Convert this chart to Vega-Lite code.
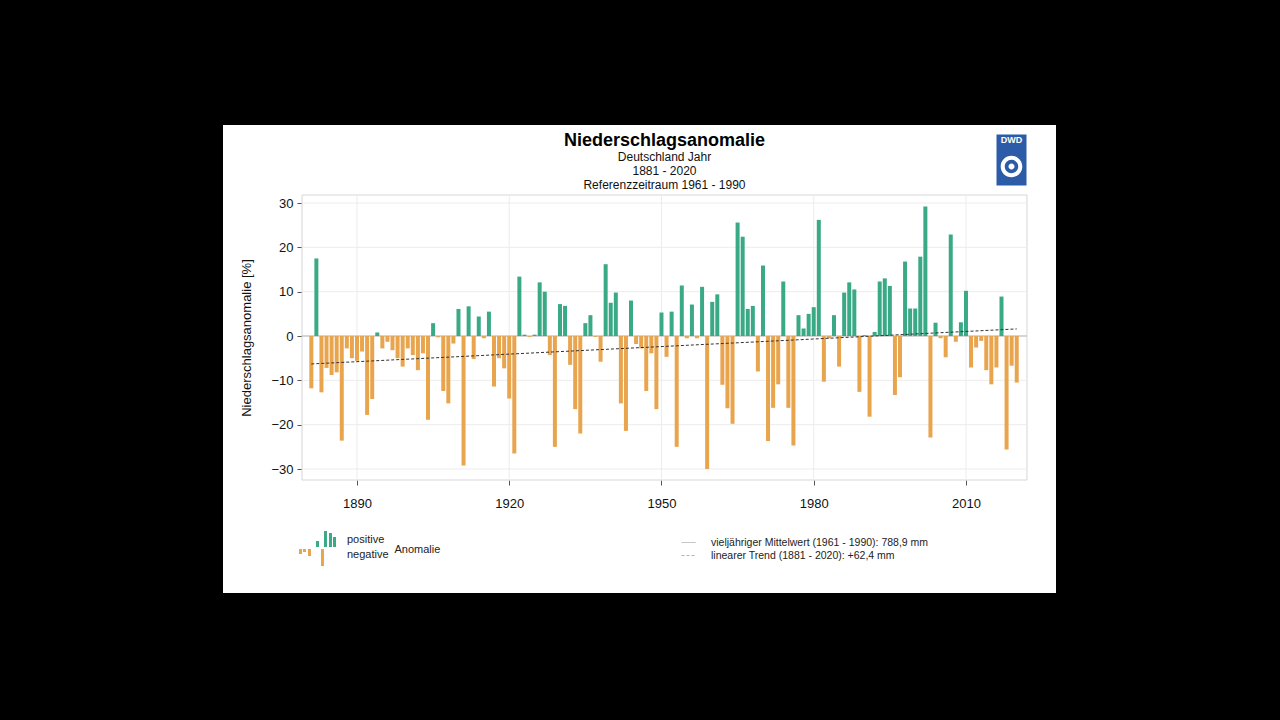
{
  "$schema": "https://vega.github.io/schema/vega-lite/v6.json",
  "width": 833,
  "height": 468,
  "autosize": {"type": "none"},
  "padding": {"left": 223, "top": 125, "right": 224, "bottom": 127},
  "background": "#000000",
  "config": {
    "font": "Liberation Sans",
    "view": {"fill": "#ffffff", "stroke": null}
  },
  "title": {
    "text": "Niederschlagsanomalie",
    "subtitle": ["Deutschland Jahr", "1881 - 2020", "Referenzzeitraum 1961 - 1990"],
    "anchor": "middle",
    "frame": "group",
    "dx": 25,
    "offset": -66,
    "fontSize": 18,
    "fontWeight": "bold",
    "color": "#000000",
    "subtitleFontSize": 12,
    "subtitleColor": "#111111",
    "subtitlePadding": 2,
    "subtitleLineHeight": 14
  },
  "datasets": {
    "anomalie": [
      {"year": 1881, "anomaly": -11.8, "typ": "negative"},
      {"year": 1882, "anomaly": 17.5, "typ": "positive"},
      {"year": 1883, "anomaly": -12.7, "typ": "negative"},
      {"year": 1884, "anomaly": -7.2, "typ": "negative"},
      {"year": 1885, "anomaly": -8.8, "typ": "negative"},
      {"year": 1886, "anomaly": -8.2, "typ": "negative"},
      {"year": 1887, "anomaly": -23.6, "typ": "negative"},
      {"year": 1888, "anomaly": -2.8, "typ": "negative"},
      {"year": 1889, "anomaly": -5.0, "typ": "negative"},
      {"year": 1890, "anomaly": -5.6, "typ": "negative"},
      {"year": 1891, "anomaly": -3.5, "typ": "negative"},
      {"year": 1892, "anomaly": -17.8, "typ": "negative"},
      {"year": 1893, "anomaly": -14.2, "typ": "negative"},
      {"year": 1894, "anomaly": 0.8, "typ": "positive"},
      {"year": 1895, "anomaly": -2.8, "typ": "negative"},
      {"year": 1896, "anomaly": -1.3, "typ": "negative"},
      {"year": 1897, "anomaly": -3.2, "typ": "negative"},
      {"year": 1898, "anomaly": -5.0, "typ": "negative"},
      {"year": 1899, "anomaly": -6.9, "typ": "negative"},
      {"year": 1900, "anomaly": -2.8, "typ": "negative"},
      {"year": 1901, "anomaly": -4.3, "typ": "negative"},
      {"year": 1902, "anomaly": -7.7, "typ": "negative"},
      {"year": 1903, "anomaly": -3.9, "typ": "negative"},
      {"year": 1904, "anomaly": -18.9, "typ": "negative"},
      {"year": 1905, "anomaly": 2.9, "typ": "positive"},
      {"year": 1906, "anomaly": -0.3, "typ": "negative"},
      {"year": 1907, "anomaly": -12.4, "typ": "negative"},
      {"year": 1908, "anomaly": -15.2, "typ": "negative"},
      {"year": 1909, "anomaly": -1.7, "typ": "negative"},
      {"year": 1910, "anomaly": 6.1, "typ": "positive"},
      {"year": 1911, "anomaly": -29.2, "typ": "negative"},
      {"year": 1912, "anomaly": 6.7, "typ": "positive"},
      {"year": 1913, "anomaly": -5.2, "typ": "negative"},
      {"year": 1914, "anomaly": 4.4, "typ": "positive"},
      {"year": 1915, "anomaly": -0.5, "typ": "negative"},
      {"year": 1916, "anomaly": 5.5, "typ": "positive"},
      {"year": 1917, "anomaly": -11.4, "typ": "negative"},
      {"year": 1918, "anomaly": -5.0, "typ": "negative"},
      {"year": 1919, "anomaly": -7.3, "typ": "negative"},
      {"year": 1920, "anomaly": -14.1, "typ": "negative"},
      {"year": 1921, "anomaly": -26.5, "typ": "negative"},
      {"year": 1922, "anomaly": 13.4, "typ": "positive"},
      {"year": 1923, "anomaly": 0.3, "typ": "positive"},
      {"year": 1924, "anomaly": -0.2, "typ": "negative"},
      {"year": 1925, "anomaly": 0.3, "typ": "positive"},
      {"year": 1926, "anomaly": 12.1, "typ": "positive"},
      {"year": 1927, "anomaly": 10.0, "typ": "positive"},
      {"year": 1928, "anomaly": -4.3, "typ": "negative"},
      {"year": 1929, "anomaly": -25.0, "typ": "negative"},
      {"year": 1930, "anomaly": 7.2, "typ": "positive"},
      {"year": 1931, "anomaly": 6.8, "typ": "positive"},
      {"year": 1932, "anomaly": -6.5, "typ": "negative"},
      {"year": 1933, "anomaly": -16.5, "typ": "negative"},
      {"year": 1934, "anomaly": -22.0, "typ": "negative"},
      {"year": 1935, "anomaly": 2.9, "typ": "positive"},
      {"year": 1936, "anomaly": 4.7, "typ": "positive"},
      {"year": 1937, "anomaly": -0.2, "typ": "negative"},
      {"year": 1938, "anomaly": -5.8, "typ": "negative"},
      {"year": 1939, "anomaly": 16.2, "typ": "positive"},
      {"year": 1940, "anomaly": 7.5, "typ": "positive"},
      {"year": 1941, "anomaly": 9.8, "typ": "positive"},
      {"year": 1942, "anomaly": -15.2, "typ": "negative"},
      {"year": 1943, "anomaly": -21.4, "typ": "negative"},
      {"year": 1944, "anomaly": 8.0, "typ": "positive"},
      {"year": 1945, "anomaly": -1.8, "typ": "negative"},
      {"year": 1946, "anomaly": -2.8, "typ": "negative"},
      {"year": 1947, "anomaly": -12.4, "typ": "negative"},
      {"year": 1948, "anomaly": -3.9, "typ": "negative"},
      {"year": 1949, "anomaly": -16.5, "typ": "negative"},
      {"year": 1950, "anomaly": 5.3, "typ": "positive"},
      {"year": 1951, "anomaly": -4.7, "typ": "negative"},
      {"year": 1952, "anomaly": 5.5, "typ": "positive"},
      {"year": 1953, "anomaly": -25.0, "typ": "negative"},
      {"year": 1954, "anomaly": 11.4, "typ": "positive"},
      {"year": 1955, "anomaly": -0.5, "typ": "negative"},
      {"year": 1956, "anomaly": 7.1, "typ": "positive"},
      {"year": 1957, "anomaly": -0.5, "typ": "negative"},
      {"year": 1958, "anomaly": 11.1, "typ": "positive"},
      {"year": 1959, "anomaly": -30.0, "typ": "negative"},
      {"year": 1960, "anomaly": 7.7, "typ": "positive"},
      {"year": 1961, "anomaly": 9.4, "typ": "positive"},
      {"year": 1962, "anomaly": -11.0, "typ": "negative"},
      {"year": 1963, "anomaly": -16.3, "typ": "negative"},
      {"year": 1964, "anomaly": -19.8, "typ": "negative"},
      {"year": 1965, "anomaly": 25.6, "typ": "positive"},
      {"year": 1966, "anomaly": 22.4, "typ": "positive"},
      {"year": 1967, "anomaly": 6.1, "typ": "positive"},
      {"year": 1968, "anomaly": 6.8, "typ": "positive"},
      {"year": 1969, "anomaly": -8.0, "typ": "negative"},
      {"year": 1970, "anomaly": 15.9, "typ": "positive"},
      {"year": 1971, "anomaly": -23.7, "typ": "negative"},
      {"year": 1972, "anomaly": -16.2, "typ": "negative"},
      {"year": 1973, "anomaly": -10.9, "typ": "negative"},
      {"year": 1974, "anomaly": 12.3, "typ": "positive"},
      {"year": 1975, "anomaly": -16.2, "typ": "negative"},
      {"year": 1976, "anomaly": -24.7, "typ": "negative"},
      {"year": 1977, "anomaly": 4.7, "typ": "positive"},
      {"year": 1978, "anomaly": 1.7, "typ": "positive"},
      {"year": 1979, "anomaly": 5.0, "typ": "positive"},
      {"year": 1980, "anomaly": 6.5, "typ": "positive"},
      {"year": 1981, "anomaly": 26.2, "typ": "positive"},
      {"year": 1982, "anomaly": -10.3, "typ": "negative"},
      {"year": 1983, "anomaly": -0.5, "typ": "negative"},
      {"year": 1984, "anomaly": 4.7, "typ": "positive"},
      {"year": 1985, "anomaly": -6.9, "typ": "negative"},
      {"year": 1986, "anomaly": 9.8, "typ": "positive"},
      {"year": 1987, "anomaly": 12.1, "typ": "positive"},
      {"year": 1988, "anomaly": 10.5, "typ": "positive"},
      {"year": 1989, "anomaly": -12.6, "typ": "negative"},
      {"year": 1990, "anomaly": 0.2, "typ": "positive"},
      {"year": 1991, "anomaly": -18.2, "typ": "negative"},
      {"year": 1992, "anomaly": 0.9, "typ": "positive"},
      {"year": 1993, "anomaly": 12.3, "typ": "positive"},
      {"year": 1994, "anomaly": 13.0, "typ": "positive"},
      {"year": 1995, "anomaly": 11.3, "typ": "positive"},
      {"year": 1996, "anomaly": -13.3, "typ": "negative"},
      {"year": 1997, "anomaly": -9.3, "typ": "negative"},
      {"year": 1998, "anomaly": 16.8, "typ": "positive"},
      {"year": 1999, "anomaly": 6.2, "typ": "positive"},
      {"year": 2000, "anomaly": 6.2, "typ": "positive"},
      {"year": 2001, "anomaly": 17.9, "typ": "positive"},
      {"year": 2002, "anomaly": 29.2, "typ": "positive"},
      {"year": 2003, "anomaly": -22.9, "typ": "negative"},
      {"year": 2004, "anomaly": 3.0, "typ": "positive"},
      {"year": 2005, "anomaly": -0.5, "typ": "negative"},
      {"year": 2006, "anomaly": -4.8, "typ": "negative"},
      {"year": 2007, "anomaly": 22.9, "typ": "positive"},
      {"year": 2008, "anomaly": -1.3, "typ": "negative"},
      {"year": 2009, "anomaly": 3.1, "typ": "positive"},
      {"year": 2010, "anomaly": 10.2, "typ": "positive"},
      {"year": 2011, "anomaly": -7.1, "typ": "negative"},
      {"year": 2012, "anomaly": -2.6, "typ": "negative"},
      {"year": 2013, "anomaly": -1.1, "typ": "negative"},
      {"year": 2014, "anomaly": -7.7, "typ": "negative"},
      {"year": 2015, "anomaly": -10.9, "typ": "negative"},
      {"year": 2016, "anomaly": -7.1, "typ": "negative"},
      {"year": 2017, "anomaly": 8.9, "typ": "positive"},
      {"year": 2018, "anomaly": -25.6, "typ": "negative"},
      {"year": 2019, "anomaly": -6.7, "typ": "negative"},
      {"year": 2020, "anomaly": -10.5, "typ": "negative"}
    ],
    "trend": [
      {"year": 1881, "anomaly": -6.3},
      {"year": 2020, "anomaly": 1.6}
    ],
    "hgrid": [
      {"anomaly": -30}, {"anomaly": -20}, {"anomaly": -10}, {"anomaly": 0},
      {"anomaly": 10}, {"anomaly": 20}, {"anomaly": 30}
    ],
    "vgrid": [
      {"year": 1890}, {"year": 1920}, {"year": 1950}, {"year": 1980}, {"year": 2010}
    ],
    "frame": [{"name": "frame"}]
  },
  "layer": [
    {
      "data": {"name": "frame"},
      "mark": {"type": "rect", "fill": "#ffffff", "stroke": "#d6d6d6", "strokeWidth": 1},
      "encoding": {
        "x": {"datum": 1879.17, "type": "quantitative"},
        "x2": {"datum": 2022.02},
        "y": {"datum": 31.81, "type": "quantitative"},
        "y2": {"datum": -32.48}
      }
    },
    {
      "data": {"name": "frame"},
      "mark": {"type": "rect", "fill": "#2c5ca8", "strokeWidth": 0},
      "encoding": {
        "x": {"datum": 1900, "type": "quantitative"},
        "x2": {"datum": 1900},
        "y": {"datum": 0, "type": "quantitative"},
        "y2": {"datum": 0},
        "opacity": {
          "datum": "DWD",
          "type": "nominal",
          "scale": {"domain": ["DWD"], "range": [1, 1]},
          "legend": {
            "orient": "none",
            "legendX": 773.5,
            "legendY": 11,
            "title": "DWD",
            "titleOrient": "top",
            "titleAnchor": "middle",
            "titleAlign": "center",
            "titleBaseline": "top",
            "titleFontSize": 9,
            "titleFontWeight": "bold",
            "titleColor": "#ffffff",
            "titlePadding": 0,
            "padding": 0,
            "rowPadding": 0,
            "symbolSize": 900,
            "symbolType": "M-1,-1.7H1V1.7H-1Z M0.72,0.43A0.72,0.72 0 1,0 -0.72,0.43A0.72,0.72 0 1,0 0.72,0.43Z M-0.45,0.43A0.45,0.45 0 1,1 0.45,0.43A0.45,0.45 0 1,1 -0.45,0.43Z M0.2,0.43A0.2,0.2 0 1,0 -0.2,0.43A0.2,0.2 0 1,0 0.2,0.43Z",
            "symbolStrokeWidth": 0,
            "labelExpr": "''",
            "labelOffset": 0,
            "labelFontSize": 1,
            "encode": {
              "symbols": {
                "update": {
                  "fill": {"value": "#2c5ca8"},
                  "opacity": {"value": 1}
                }
              }
            }
          }
        }
      }
    },
    {
      "data": {"name": "hgrid"},
      "mark": {"type": "rule", "stroke": "#ececec", "strokeWidth": 1},
      "encoding": {
        "y": {"field": "anomaly", "type": "quantitative", "title": "Niederschlagsanomalie [%]"},
        "x": {"datum": 1879.17, "type": "quantitative"},
        "x2": {"datum": 2022.02}
      }
    },
    {
      "data": {"name": "vgrid"},
      "mark": {"type": "rule", "stroke": "#ececec", "strokeWidth": 1},
      "encoding": {
        "x": {"field": "year", "type": "quantitative", "title": null},
        "y": {"datum": 31.81, "type": "quantitative"},
        "y2": {"datum": -32.48}
      }
    },
    {
      "data": {"name": "frame"},
      "mark": {"type": "rule", "stroke": "#b4b4b4", "strokeWidth": 1},
      "encoding": {
        "y": {"datum": 0, "type": "quantitative"},
        "x": {"datum": 1879.17, "type": "quantitative"},
        "x2": {"datum": 2022.02},
        "strokeDash": {
          "datum": "vieljähriger Mittelwert (1961 - 1990): 788,9 mm",
          "type": "nominal",
          "scale": {
            "domain": ["vieljähriger Mittelwert (1961 - 1990): 788,9 mm", "linearer Trend (1881 - 2020): +62,4 mm"],
            "range": [[1, 0], [3, 2]]
          },
          "legend": {
            "orient": "none",
            "legendX": 458,
            "legendY": 410,
            "title": null,
            "padding": 0,
            "rowPadding": 0,
            "symbolType": "stroke",
            "symbolSize": 196,
            "symbolStrokeWidth": 1,
            "labelFontSize": 10.5,
            "labelColor": "#222222",
            "labelOffset": 15,
            "labelLimit": 400,
            "encode": {
              "symbols": {
                "update": {
                  "stroke": {"signal": "indexof(datum.value, 'Trend') >= 0 ? '#666666' : '#bbbbbb'"}
                }
              }
            }
          }
        }
      }
    },
    {
      "data": {"name": "anomalie"},
      "mark": {"type": "bar", "size": 4},
      "encoding": {
        "x": {
          "field": "year",
          "type": "quantitative",
          "title": null,
          "scale": {"domain": [1863.6, 2027.74], "nice": false, "zero": false, "padding": 0},
          "axis": {
            "values": [1890, 1920, 1950, 1980, 2010],
            "format": "d",
            "offset": -113,
            "domain": false,
            "grid": false,
            "ticks": true,
            "tickSize": 5,
            "tickColor": "#555555",
            "labelPadding": 12,
            "labelFontSize": 13,
            "labelColor": "#111111",
            "title": null
          }
        },
        "y": {
          "field": "anomaly",
          "type": "quantitative",
          "title": "Niederschlagsanomalie [%]",
          "scale": {"domain": [-57.97, 47.6], "nice": false, "zero": false, "padding": 0},
          "axis": {
            "values": [-30, -20, -10, 0, 10, 20, 30],
            "offset": -79,
            "domain": false,
            "grid": false,
            "ticks": true,
            "tickSize": 5,
            "tickColor": "#555555",
            "labelPadding": 4,
            "labelFontSize": 13,
            "labelColor": "#111111",
            "title": "Niederschlagsanomalie [%]",
            "titleFontSize": 13,
            "titleFontWeight": "normal",
            "titleColor": "#111111",
            "titleX": -56,
            "titleY": 212.5,
            "titleAngle": -90,
            "titleAlign": "center",
            "titleBaseline": "middle"
          }
        },
        "y2": {"datum": 0},
        "color": {
          "field": "typ",
          "type": "nominal",
          "scale": {"domain": ["positive", "negative"], "range": ["#3aa985", "#e9a44e"]},
          "legend": {
            "orient": "none",
            "legendX": 87.5,
            "legendY": 407.5,
            "title": "Anomalie",
            "titleOrient": "right",
            "titleAnchor": "middle",
            "titleBaseline": "middle",
            "titleFontSize": 11,
            "titleFontWeight": "normal",
            "titleColor": "#222222",
            "titlePadding": 6,
            "padding": 0,
            "rowPadding": 0,
            "symbolSize": 169,
            "labelFontSize": 11,
            "labelColor": "#222222",
            "labelOffset": 21.5,
            "encode": {
              "symbols": {
                "update": {
                  "shape": {"signal": "datum.value === 'positive' ? 'M-0.31,1.08V0.15H0.15V1.08Z M0.92,1.08V-1.38H1.38V1.08Z M1.69,1.08V-1.08H2.15V1.08Z M2.31,1.08V-0.46H2.77V1.08Z' : 'M-2.92,-0.92V-0.15H-2.46V-0.92Z M-2.31,-0.92V-0.46H-1.85V-0.92Z M-1.54,-0.92V0.15H-1.08V-0.92Z M0.46,-0.92V1.69H0.92V-0.92Z'"}
                }
              }
            }
          }
        }
      }
    },
    {
      "data": {"name": "trend"},
      "mark": {"type": "line", "stroke": "#333333", "strokeWidth": 1},
      "encoding": {
        "x": {"field": "year", "type": "quantitative", "title": null},
        "y": {"field": "anomaly", "type": "quantitative", "title": "Niederschlagsanomalie [%]"},
        "strokeDash": {
          "datum": "linearer Trend (1881 - 2020): +62,4 mm",
          "type": "nominal",
          "scale": {
            "domain": ["vieljähriger Mittelwert (1961 - 1990): 788,9 mm", "linearer Trend (1881 - 2020): +62,4 mm"],
            "range": [[1, 0], [3, 2]]
          }
        }
      }
    }
  ]
}
